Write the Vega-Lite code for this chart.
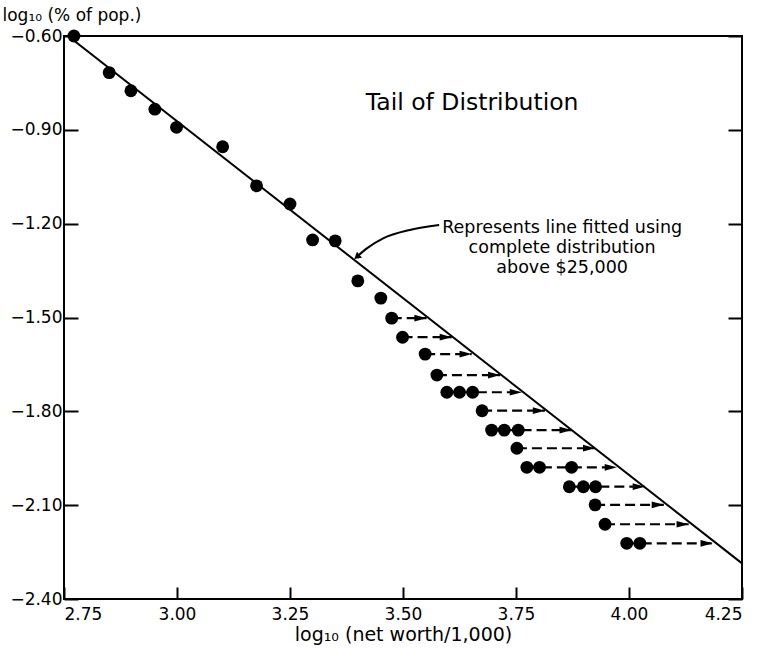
{
  "$schema": "https://vega.github.io/schema/vega-lite/v6.json",
  "width": 678,
  "height": 563,
  "autosize": "none",
  "padding": {"left": 64, "top": 36, "right": 17, "bottom": 56},
  "background": "white",
  "config": {
    "view": {"stroke": "black", "strokeWidth": 2},
    "font": "DejaVu Sans",
    "axis": {
      "grid": false,
      "domain": false,
      "tickColor": "black",
      "tickWidth": 2,
      "labelColor": "black",
      "labelFont": "DejaVu Sans",
      "labelFontSize": 17,
      "titleFont": "DejaVu Sans",
      "titleFontWeight": "normal",
      "titleColor": "black"
    }
  },
  "datasets": {
    "dots": [
      {"x": 2.772, "y": -0.600},
      {"x": 2.850, "y": -0.717},
      {"x": 2.898, "y": -0.775},
      {"x": 2.951, "y": -0.834},
      {"x": 2.999, "y": -0.892},
      {"x": 3.101, "y": -0.954},
      {"x": 3.176, "y": -1.079},
      {"x": 3.250, "y": -1.137},
      {"x": 3.300, "y": -1.252},
      {"x": 3.350, "y": -1.255},
      {"x": 3.400, "y": -1.383},
      {"x": 3.451, "y": -1.438},
      {"x": 3.475, "y": -1.502},
      {"x": 3.499, "y": -1.563},
      {"x": 3.549, "y": -1.617},
      {"x": 3.575, "y": -1.684},
      {"x": 3.597, "y": -1.739},
      {"x": 3.625, "y": -1.739},
      {"x": 3.654, "y": -1.739},
      {"x": 3.675, "y": -1.798},
      {"x": 3.696, "y": -1.860},
      {"x": 3.724, "y": -1.860},
      {"x": 3.755, "y": -1.860},
      {"x": 3.752, "y": -1.918},
      {"x": 3.774, "y": -1.979},
      {"x": 3.802, "y": -1.979},
      {"x": 3.873, "y": -1.979},
      {"x": 3.868, "y": -2.041},
      {"x": 3.899, "y": -2.041},
      {"x": 3.926, "y": -2.041},
      {"x": 3.925, "y": -2.099},
      {"x": 3.947, "y": -2.161},
      {"x": 3.995, "y": -2.222},
      {"x": 4.024, "y": -2.222}
    ],
    "arrows": [
      {"x": 3.475, "x2": 3.552, "y": -1.502},
      {"x": 3.499, "x2": 3.608, "y": -1.563},
      {"x": 3.549, "x2": 3.652, "y": -1.617},
      {"x": 3.575, "x2": 3.715, "y": -1.684},
      {"x": 3.597, "x2": 3.763, "y": -1.739},
      {"x": 3.675, "x2": 3.814, "y": -1.798},
      {"x": 3.696, "x2": 3.873, "y": -1.860},
      {"x": 3.752, "x2": 3.925, "y": -1.918},
      {"x": 3.774, "x2": 3.973, "y": -1.979},
      {"x": 3.868, "x2": 4.035, "y": -2.041},
      {"x": 3.925, "x2": 4.077, "y": -2.099},
      {"x": 3.947, "x2": 4.132, "y": -2.161},
      {"x": 3.995, "x2": 4.185, "y": -2.222}
    ],
    "fit": [
      {"x": 2.759, "y": -0.600},
      {"x": 4.250, "y": -2.286}
    ],
    "curve": [
      {"o": 1, "x": 3.580, "y": -1.204},
      {"o": 2, "x": 3.515, "y": -1.220},
      {"o": 3, "x": 3.456, "y": -1.247},
      {"o": 4, "x": 3.420, "y": -1.279},
      {"o": 5, "x": 3.400, "y": -1.303}
    ]
  },
  "layer": [
    {
      "encoding": {
        "x": {
          "type": "quantitative",
          "scale": {"domain": [2.75, 4.25], "nice": false, "zero": false},
          "axis": {
            "orient": "bottom",
            "values": [2.75, 3.0, 3.25, 3.5, 3.75, 4.0, 4.25],
            "format": ".2f",
            "tickSize": -12,
            "labelPadding": 19,
            "title": "log₁₀ (net worth/1,000)",
            "titleFontSize": 19,
            "titlePadding": 3
          }
        },
        "y": {
          "type": "quantitative",
          "scale": {"domain": [-2.4, -0.6], "nice": false, "zero": false},
          "axis": {
            "orient": "left",
            "values": [-0.6, -0.9, -1.2, -1.5, -1.8, -2.1, -2.4],
            "format": ".2f",
            "tickSize": -14,
            "labelPadding": 16,
            "title": "log₁₀ (% of pop.)",
            "titleFontSize": 17,
            "titleAngle": 0,
            "titleAlign": "left",
            "titleBaseline": "middle",
            "titleX": -62,
            "titleY": -21
          }
        }
      },
      "layer": [
        {
          "data": {"name": "fit"},
          "mark": {"type": "line", "color": "black", "strokeWidth": 2, "clip": true},
          "encoding": {"x": {"field": "x"}, "y": {"field": "y"}}
        },
        {
          "data": {"name": "arrows"},
          "mark": {"type": "rule", "color": "black", "strokeWidth": 2.2, "strokeDash": [10, 5]},
          "encoding": {"x": {"field": "x"}, "x2": {"field": "x2"}, "y": {"field": "y"}}
        },
        {
          "data": {"name": "arrows"},
          "mark": {"type": "point", "shape": "M-1,-0.55L1,0L-1,0.55Z", "filled": true, "color": "black", "opacity": 1, "size": 150, "xOffset": -6},
          "encoding": {"x": {"field": "x2"}, "y": {"field": "y"}}
        },
        {
          "data": {"name": "dots"},
          "mark": {"type": "circle", "color": "black", "opacity": 1, "size": 165, "clip": false},
          "encoding": {"x": {"field": "x"}, "y": {"field": "y"}}
        },
        {
          "data": {"name": "curve"},
          "mark": {"type": "line", "color": "black", "strokeWidth": 2, "interpolate": "monotone"},
          "encoding": {"x": {"field": "x"}, "y": {"field": "y"}, "order": {"field": "o"}}
        },
        {
          "data": {"values": [{"x": 3.398, "y": -1.306}]},
          "mark": {"type": "point", "shape": "triangle-up", "filled": true, "color": "black", "opacity": 1, "size": 60, "angle": 230},
          "encoding": {"x": {"field": "x"}, "y": {"field": "y"}}
        },
        {
          "data": {"values": [{}]},
          "mark": {"type": "text", "text": "Tail of Distribution", "fontSize": 23.5, "color": "black", "align": "center", "baseline": "middle"},
          "encoding": {"x": {"datum": 3.653}, "y": {"datum": -0.814}}
        },
        {
          "data": {"values": [{}]},
          "mark": {"type": "text", "text": ["Represents line fitted using", "complete distribution", "above $25,000"], "fontSize": 17.5, "lineHeight": 20, "color": "black", "align": "center", "baseline": "middle"},
          "encoding": {"x": {"datum": 3.852}, "y": {"datum": -1.214}}
        }
      ]
    },
    {
      "data": {"values": [{}]},
      "mark": {"type": "rule", "opacity": 0},
      "encoding": {
        "y": {
          "datum": -0.6,
          "type": "quantitative",
          "scale": {"domain": [-2.4, -0.6], "nice": false, "zero": false},
          "axis": {
            "orient": "right",
            "values": [-0.6, -0.9, -1.2, -1.5, -1.8, -2.1, -2.4],
            "labels": false,
            "tickSize": -14,
            "title": null
          }
        }
      }
    }
  ],
  "resolve": {"axis": {"y": "independent"}}
}
